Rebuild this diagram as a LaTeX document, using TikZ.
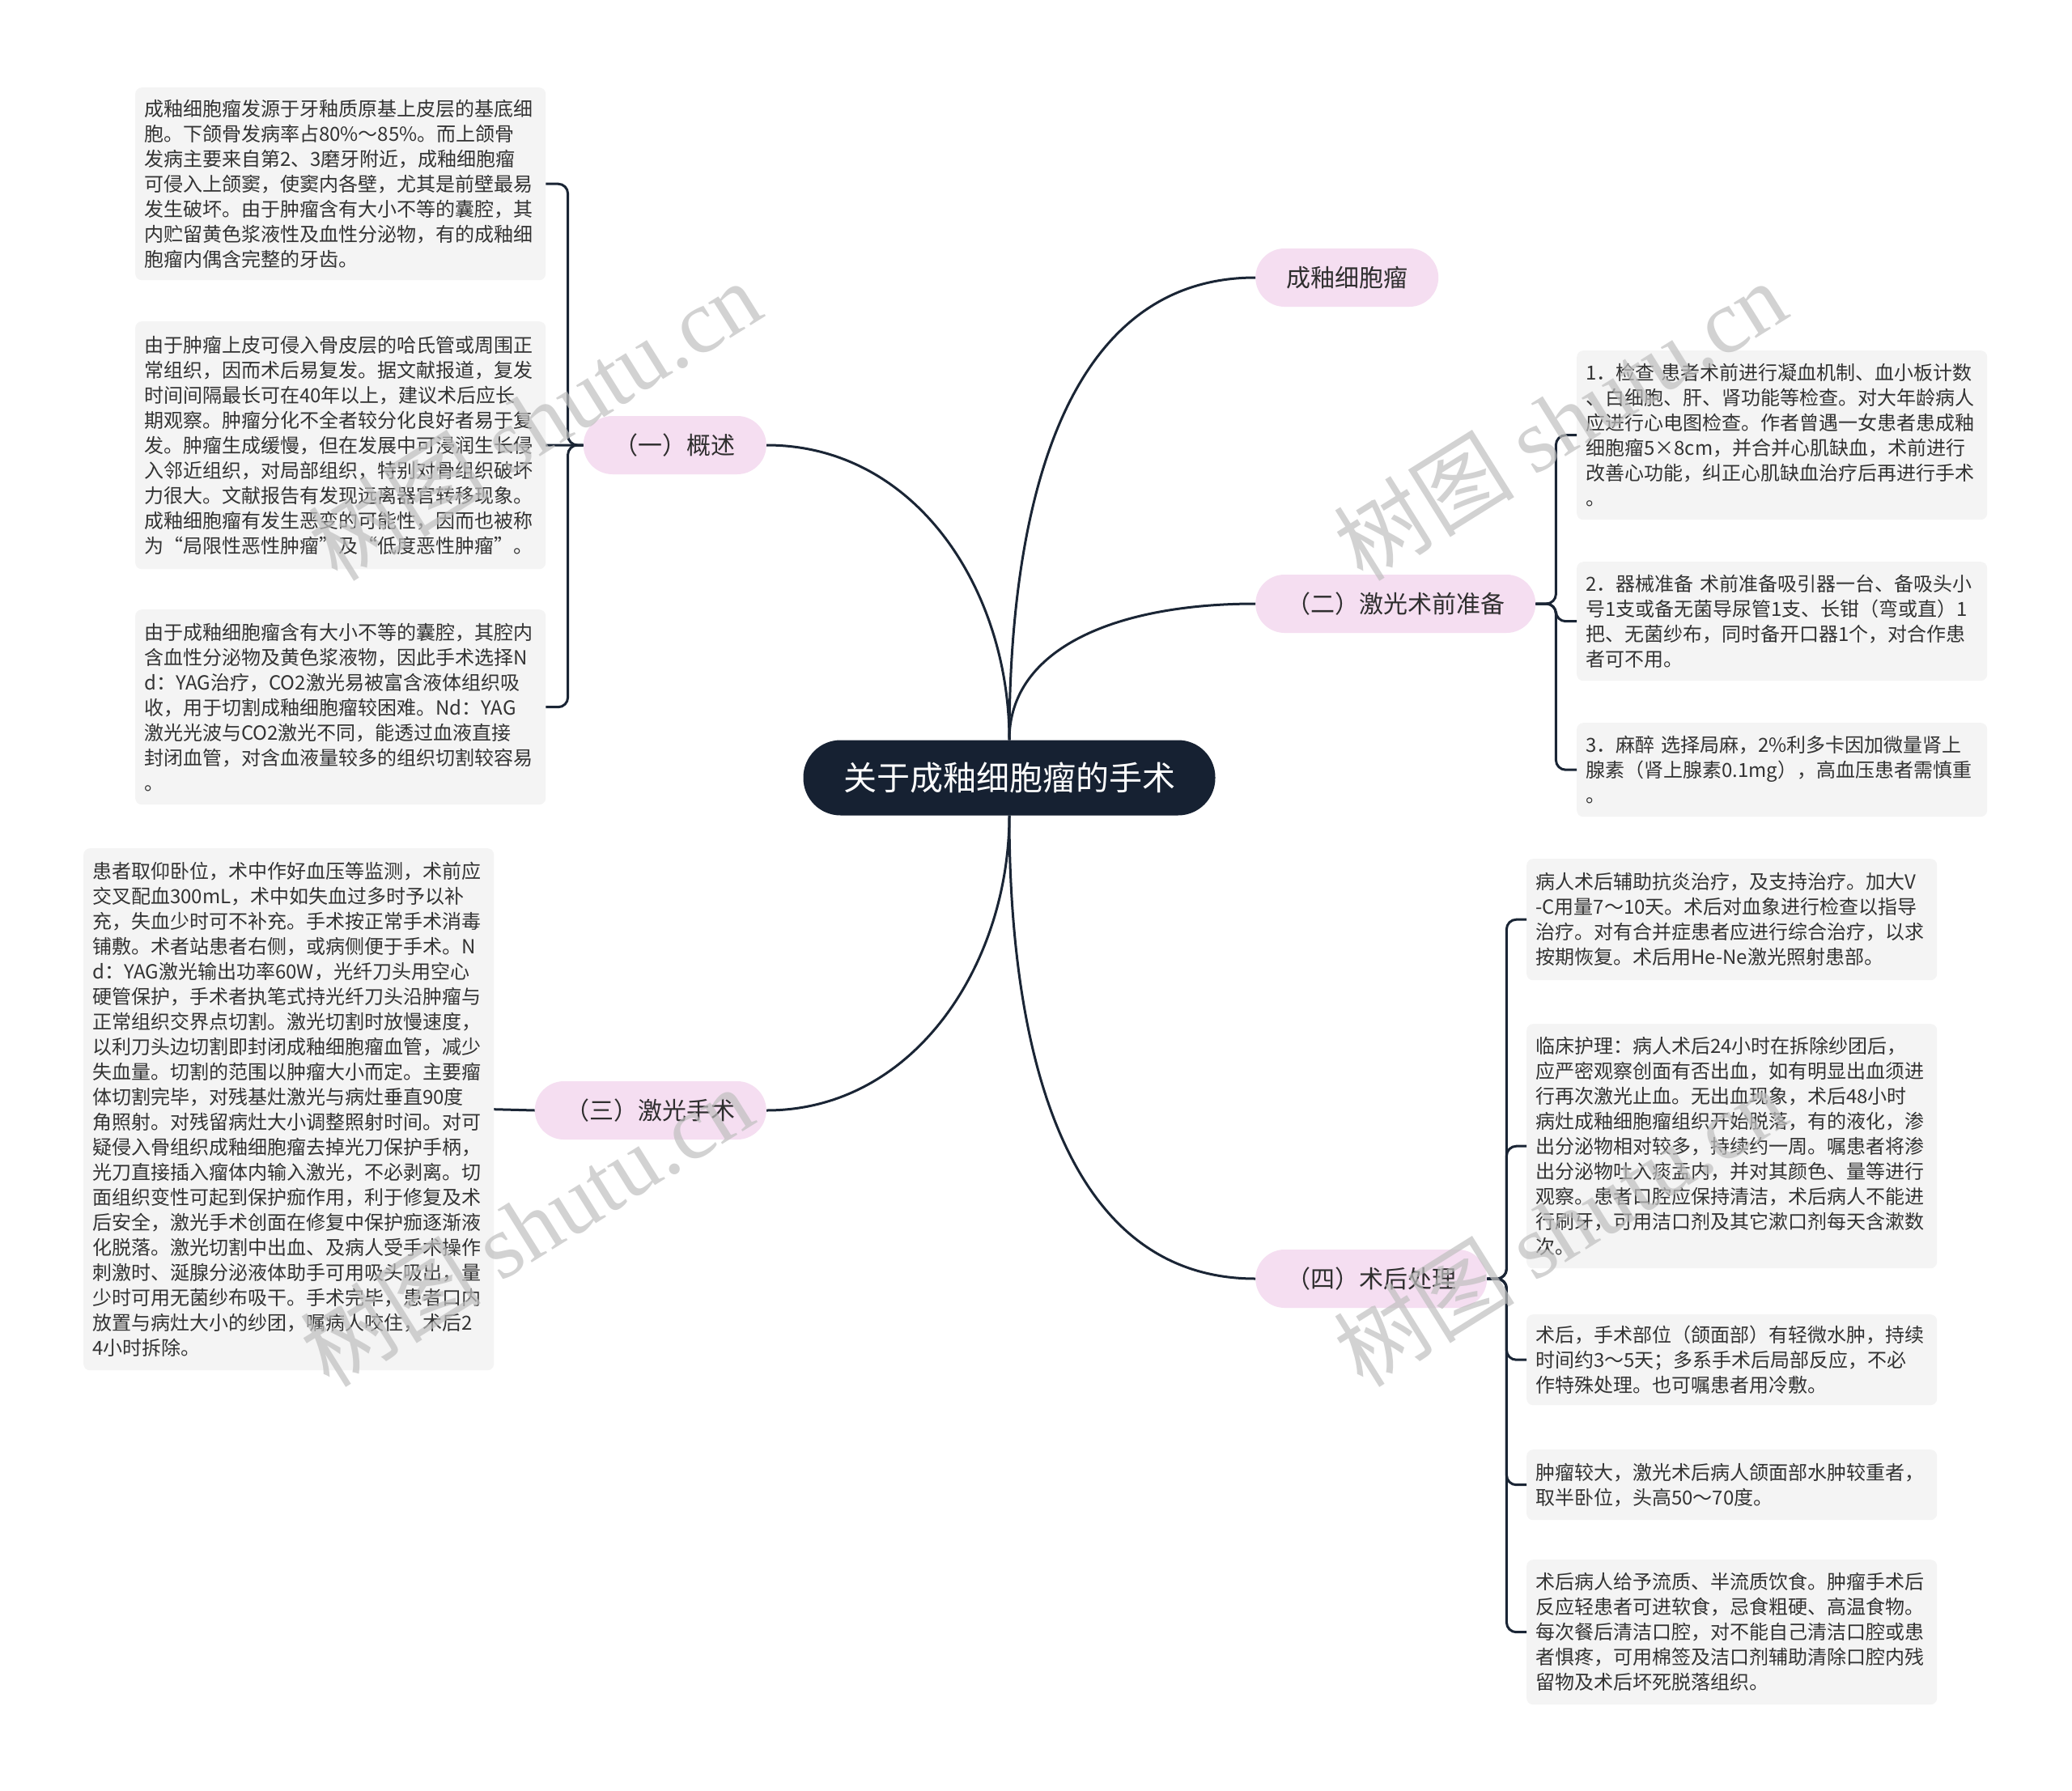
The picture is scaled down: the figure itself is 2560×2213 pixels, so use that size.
\documentclass[tikz,border=0pt]{standalone}
\usepackage{fontspec}
\setmainfont{Noto Sans CJK SC}
\newfontfamily\cjk{Noto Sans CJK SC}
\newfontfamily\wmserif{Liberation Serif}
\usetikzlibrary{calc}
\definecolor{navy}{HTML}{162132}
\definecolor{linec}{HTML}{1A2535}
\definecolor{pinkc}{HTML}{F5DEF1}
\definecolor{boxgray}{HTML}{F4F4F4}
\definecolor{txtc}{HTML}{333333}
\definecolor{topictxt}{HTML}{2E2E2E}
\tikzset{
  txtbox/.style={fill=boxgray, rounded corners=8pt, anchor=north west, text width=485pt,
    inner xsep=11pt, inner ysep=0pt, align=left, text=txtc,
    font=\cjk\fontsize{24}{31}\selectfont},
  topic/.style={fill=pinkc, rounded corners=36pt, minimum height=72pt, inner xsep=38pt,
    text=topictxt, font=\cjk\fontsize{30}{36}\selectfont},
  rootn/.style={fill=navy, rounded corners=46pt, minimum height=93pt, minimum width=509pt,
    text=white, font=\cjk\fontsize{41}{48}\selectfont},
  link/.style={draw=linec, line width=3pt},
  brace/.style={draw=linec, line width=3pt, rounded corners=12pt},
  wm/.style={rotate=32, text=black!25, text opacity=0.7}
}
\newcommand{\wmtext}{{\cjk\fontsize{112}{120}\selectfont 树图 \wmserif shutu.cn}}
\begin{document}
\begin{tikzpicture}[x=1pt,y=-1pt]
\fill[white] (0,0) rectangle (2560,2213);
\useasboundingbox (0,0) rectangle (2560,2213);

% root and topics
\node[rootn] (root) at (1247,961) {关于成釉细胞瘤的手术};
\node[topic, anchor=west] (n1) at (1551,343) {成釉细胞瘤};
\node[topic, anchor=west] (n2) at (1551,746) {（二）激光术前准备};
\node[topic, anchor=west] (n4) at (1551,1580) {（四）术后处理};
\node[topic, anchor=east] (n0) at (947,550) {（一）概述};
\node[topic, anchor=east] (n3) at (947,1372) {（三）激光手术};

% left text boxes
\node[txtbox, minimum height=238pt] (A) at (167,108) {成釉细胞瘤发源于牙釉质原基上皮层的基底细\\胞。下颌骨发病率占80\%～85\%。而上颌骨\\发病主要来自第2、3磨牙附近，成釉细胞瘤\\可侵入上颌窦，使窦内各壁，尤其是前壁最易\\发生破坏。由于肿瘤含有大小不等的囊腔，其\\内贮留黄色浆液性及血性分泌物，有的成釉细\\胞瘤内偶含完整的牙齿。};
\node[txtbox, minimum height=306pt] (B) at (167,397) {由于肿瘤上皮可侵入骨皮层的哈氏管或周围正\\常组织，因而术后易复发。据文献报道，复发\\时间间隔最长可在40年以上，建议术后应长\\期观察。肿瘤分化不全者较分化良好者易于复\\发。肿瘤生成缓慢，但在发展中可浸润生长侵\\入邻近组织，对局部组织，特别对骨组织破坏\\力很大。文献报告有发现远离器官转移现象。\\成釉细胞瘤有发生恶变的可能性，因而也被称\\为“局限性恶性肿瘤”及“低度恶性肿瘤”。};
\node[txtbox, minimum height=241pt] (C) at (167,753) {由于成釉细胞瘤含有大小不等的囊腔，其腔内\\含血性分泌物及黄色浆液物，因此手术选择N\\d：YAG治疗，CO2激光易被富含液体组织吸\\收，用于切割成釉细胞瘤较困难。Nd：YAG\\激光光波与CO2激光不同，能透过血液直接\\封闭血管，对含血液量较多的组织切割较容易\\。};
\node[txtbox, minimum height=645pt] (D) at (103,1048) {患者取仰卧位，术中作好血压等监测，术前应\\交叉配血300mL，术中如失血过多时予以补\\充，失血少时可不补充。手术按正常手术消毒\\铺敷。术者站患者右侧，或病侧便于手术。N\\d：YAG激光输出功率60W，光纤刀头用空心\\硬管保护，手术者执笔式持光纤刀头沿肿瘤与\\正常组织交界点切割。激光切割时放慢速度，\\以利刀头边切割即封闭成釉细胞瘤血管，减少\\失血量。切割的范围以肿瘤大小而定。主要瘤\\体切割完毕，对残基灶激光与病灶垂直90度\\角照射。对残留病灶大小调整照射时间。对可\\疑侵入骨组织成釉细胞瘤去掉光刀保护手柄，\\光刀直接插入瘤体内输入激光，不必剥离。切\\面组织变性可起到保护痂作用，利于修复及术\\后安全，激光手术创面在修复中保护痂逐渐液\\化脱落。激光切割中出血、及病人受手术操作\\刺激时、涎腺分泌液体助手可用吸头吸出，量\\少时可用无菌纱布吸干。手术完毕，患者口内\\放置与病灶大小的纱团，嘱病人咬住，术后2\\4小时拆除。};

% right text boxes (二)
\node[txtbox, minimum height=209pt] (R1) at (1948,433) {1．检查 患者术前进行凝血机制、血小板计数\\、白细胞、肝、肾功能等检查。对大年龄病人\\应进行心电图检查。作者曾遇一女患者患成釉\\细胞瘤5×8cm，并合并心肌缺血，术前进行\\改善心功能，纠正心肌缺血治疗后再进行手术\\。};
\node[txtbox, minimum height=147pt] (R2) at (1948,694) {2．器械准备 术前准备吸引器一台、备吸头小\\号1支或备无菌导尿管1支、长钳（弯或直）1\\把、无菌纱布，同时备开口器1个，对合作患\\者可不用。};
\node[txtbox, minimum height=116pt] (R3) at (1948,893) {3．麻醉 选择局麻，2\%利多卡因加微量肾上\\腺素（肾上腺素0.1mg），高血压患者需慎重\\。};

% right text boxes (四)
\node[txtbox, minimum height=150pt] (S1) at (1886,1061) {病人术后辅助抗炎治疗，及支持治疗。加大V\\-C用量7～10天。术后对血象进行检查以指导\\治疗。对有合并症患者应进行综合治疗，以求\\按期恢复。术后用He-Ne激光照射患部。};
\node[txtbox, minimum height=302pt] (S2) at (1886,1265) {临床护理：病人术后24小时在拆除纱团后，\\应严密观察创面有否出血，如有明显出血须进\\行再次激光止血。无出血现象，术后48小时\\病灶成釉细胞瘤组织开始脱落，有的液化，渗\\出分泌物相对较多，持续约一周。嘱患者将渗\\出分泌物吐入痰盂内，并对其颜色、量等进行\\观察。患者口腔应保持清洁，术后病人不能进\\行刷牙，可用洁口剂及其它漱口剂每天含漱数\\次。};
\node[txtbox, minimum height=112pt] (S3) at (1886,1624) {术后，手术部位（颌面部）有轻微水肿，持续\\时间约3～5天；多系手术后局部反应，不必\\作特殊处理。也可嘱患者用冷敷。};
\node[txtbox, minimum height=87pt] (S4) at (1886,1791) {肿瘤较大，激光术后病人颌面部水肿较重者，\\取半卧位，头高50～70度。};
\node[txtbox, minimum height=179pt] (S5) at (1886,1927) {术后病人给予流质、半流质饮食。肿瘤手术后\\反应轻患者可进软食，忌食粗硬、高温食物。\\每次餐后清洁口腔，对不能自己清洁口腔或患\\者惧疼，可用棉签及洁口剂辅助清除口腔内残\\留物及术后坏死脱落组织。};

% main connectors
\draw[link] (root.north) .. controls ($(root.north)+(0,-254)$) and ($(n1.west)+(-251,0)$) .. (n1.west);
\draw[link] (root.north) .. controls ($(root.north)+(0,-114)$) and ($(n2.west)+(-171,0)$) .. (n2.west);
\draw[link] (root.north) .. controls ($(root.north)+(0,-185)$) and ($(n0.east)+(185,0)$) .. (n0.east);
\draw[link] (root.south) .. controls ($(root.south)+(0,254)$) and ($(n4.west)+(-251,0)$) .. (n4.west);
\draw[link] (root.south) .. controls ($(root.south)+(0,183)$) and ($(n3.east)+(183,0)$) .. (n3.east);

% braces
\draw[brace] (n0.west) -- ++(-19,0) |- (A.east);
\draw[brace] (n0.west) -- (B.east);
\draw[brace] (n0.west) -- ++(-19,0) |- (C.east);
\draw[link] (n3.west) -- (D.east);
\draw[brace] (n2.east) -- ++(25,0) |- (R1.west);
\draw[brace] (n2.east) -- ++(25,0) |- (R2.west);
\draw[brace] (n2.east) -- ++(25,0) |- (R3.west);
\draw[brace] (n4.east) -- ++(24,0) |- (S1.west);
\draw[brace] (n4.east) -- ++(24,0) |- (S2.west);
\draw[brace] (n4.east) -- ++(24,0) |- (S3.west);
\draw[brace] (n4.east) -- ++(24,0) |- (S4.west);
\draw[brace] (n4.east) -- ++(24,0) |- (S5.west);

% watermarks
\node[wm] (w1) at (660,519) {\wmtext};
\node[wm] (w2) at (1927,519) {\wmtext};
\node[wm] (w3) at (650,1515) {\wmtext};
\node[wm] (w4) at (1927,1515) {\wmtext};
\end{tikzpicture}
\end{document}
